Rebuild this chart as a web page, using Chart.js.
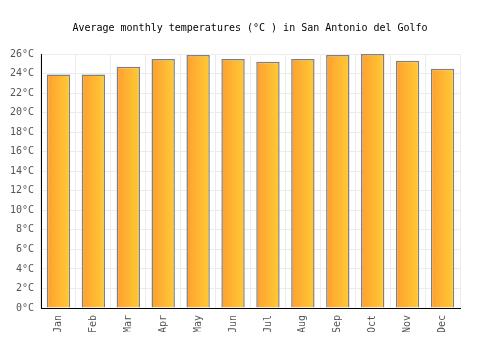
<!DOCTYPE html>
<html>
<head>
<meta charset="utf-8">
<script src="https://cdn.jsdelivr.net/npm/chart.js@4/dist/chart.umd.min.js"></script>
<style>
  html, body { margin: 0; padding: 0; background: #fff; }
  #wrap { width: 500px; height: 350px; }
</style>
</head>
<body>
<div id="wrap"><canvas id="myChart1"></canvas></div>
<script>
// monthly averages
const months = ["Jan", "Feb", "Mar", "Apr", "May", "Jun", "Jul", "Aug", "Sep", "Oct", "Nov", "Dec"];
const temps = [23.9, 23.9, 24.7, 25.5, 25.9, 25.5, 25.2, 25.5, 25.9, 26.0, 25.3, 24.5];
const yTicks = [0, 2, 4, 6, 8, 10, 12, 14, 16, 18, 20, 22, 24, 26];
const titleText = "Average monthly temperatures (°C ) in San Antonio del Golfo";

const mono = "'DejaVu Sans Mono', monospace";

// paint each bar with a left-to-right gradient
const barGradient = {
  id: 'barGradient',
  beforeDatasetsDraw(chart) {
    const c = chart.ctx;
    chart.getDatasetMeta(0).data.forEach(bar => {
      const x0 = bar.x - bar.width / 2;
      const g = c.createLinearGradient(x0, 0, x0 + bar.width, 0);
      g.addColorStop(0, '#ff9f2f');
      g.addColorStop(1, '#ffcb35');
      bar.options = Object.assign({}, bar.options, { backgroundColor: g });
    });
  }
};

// title centred on the canvas, not on the padded box
const centerTitle = {
  id: 'centerTitle',
  afterDraw(chart) {
    const c = chart.ctx;
    c.save();
    c.font = "10px " + mono;
    c.fillStyle = '#000';
    c.textAlign = 'center';
    c.textBaseline = 'middle';
    c.fillText(titleText, chart.width / 2, 28);
    c.restore();
  }
};

new Chart(document.getElementById("myChart1"), {
  type: "bar",
  data: {
    labels: months,
    datasets: [{
      data: temps,
      backgroundColor: () => '#ffb030',
      borderColor: '#808080',
      borderWidth: 1.5,
      barPercentage: 0.67,
      categoryPercentage: 1
    }]
  },
  options: {
    responsive: true,
    maintainAspectRatio: false,
    animation: false,
    layout: { padding: { left: 10, right: 40, top: 54, bottom: 18 } },
    plugins: {
      legend: { display: false },
      tooltip: { enabled: false },
      title: { display: false, text: titleText }
    },
    scales: {
      x: {
        afterFit(axis) { axis.height = 24; },
        grid: { color: '#ececec', drawTicks: false },
        border: { color: '#000', width: 1 },
        ticks: {
          color: '#555',
          font: { family: mono, size: 10 },
          maxRotation: 90,
          minRotation: 90,
          padding: 7
        }
      },
      y: {
        min: 0,
        max: 26,
        afterFit(axis) { axis.width = 31; },
        afterBuildTicks(axis) { axis.ticks = yTicks.map(v => ({ value: v })); },
        grid: { color: '#ececec', drawTicks: false },
        border: { color: '#000', width: 1 },
        ticks: {
          color: '#555',
          font: { family: mono, size: 10 },
          padding: 7,
          callback: v => v + '°C'
        }
      }
    }
  },
  plugins: [barGradient, centerTitle]
});
</script>
</body>
</html>
